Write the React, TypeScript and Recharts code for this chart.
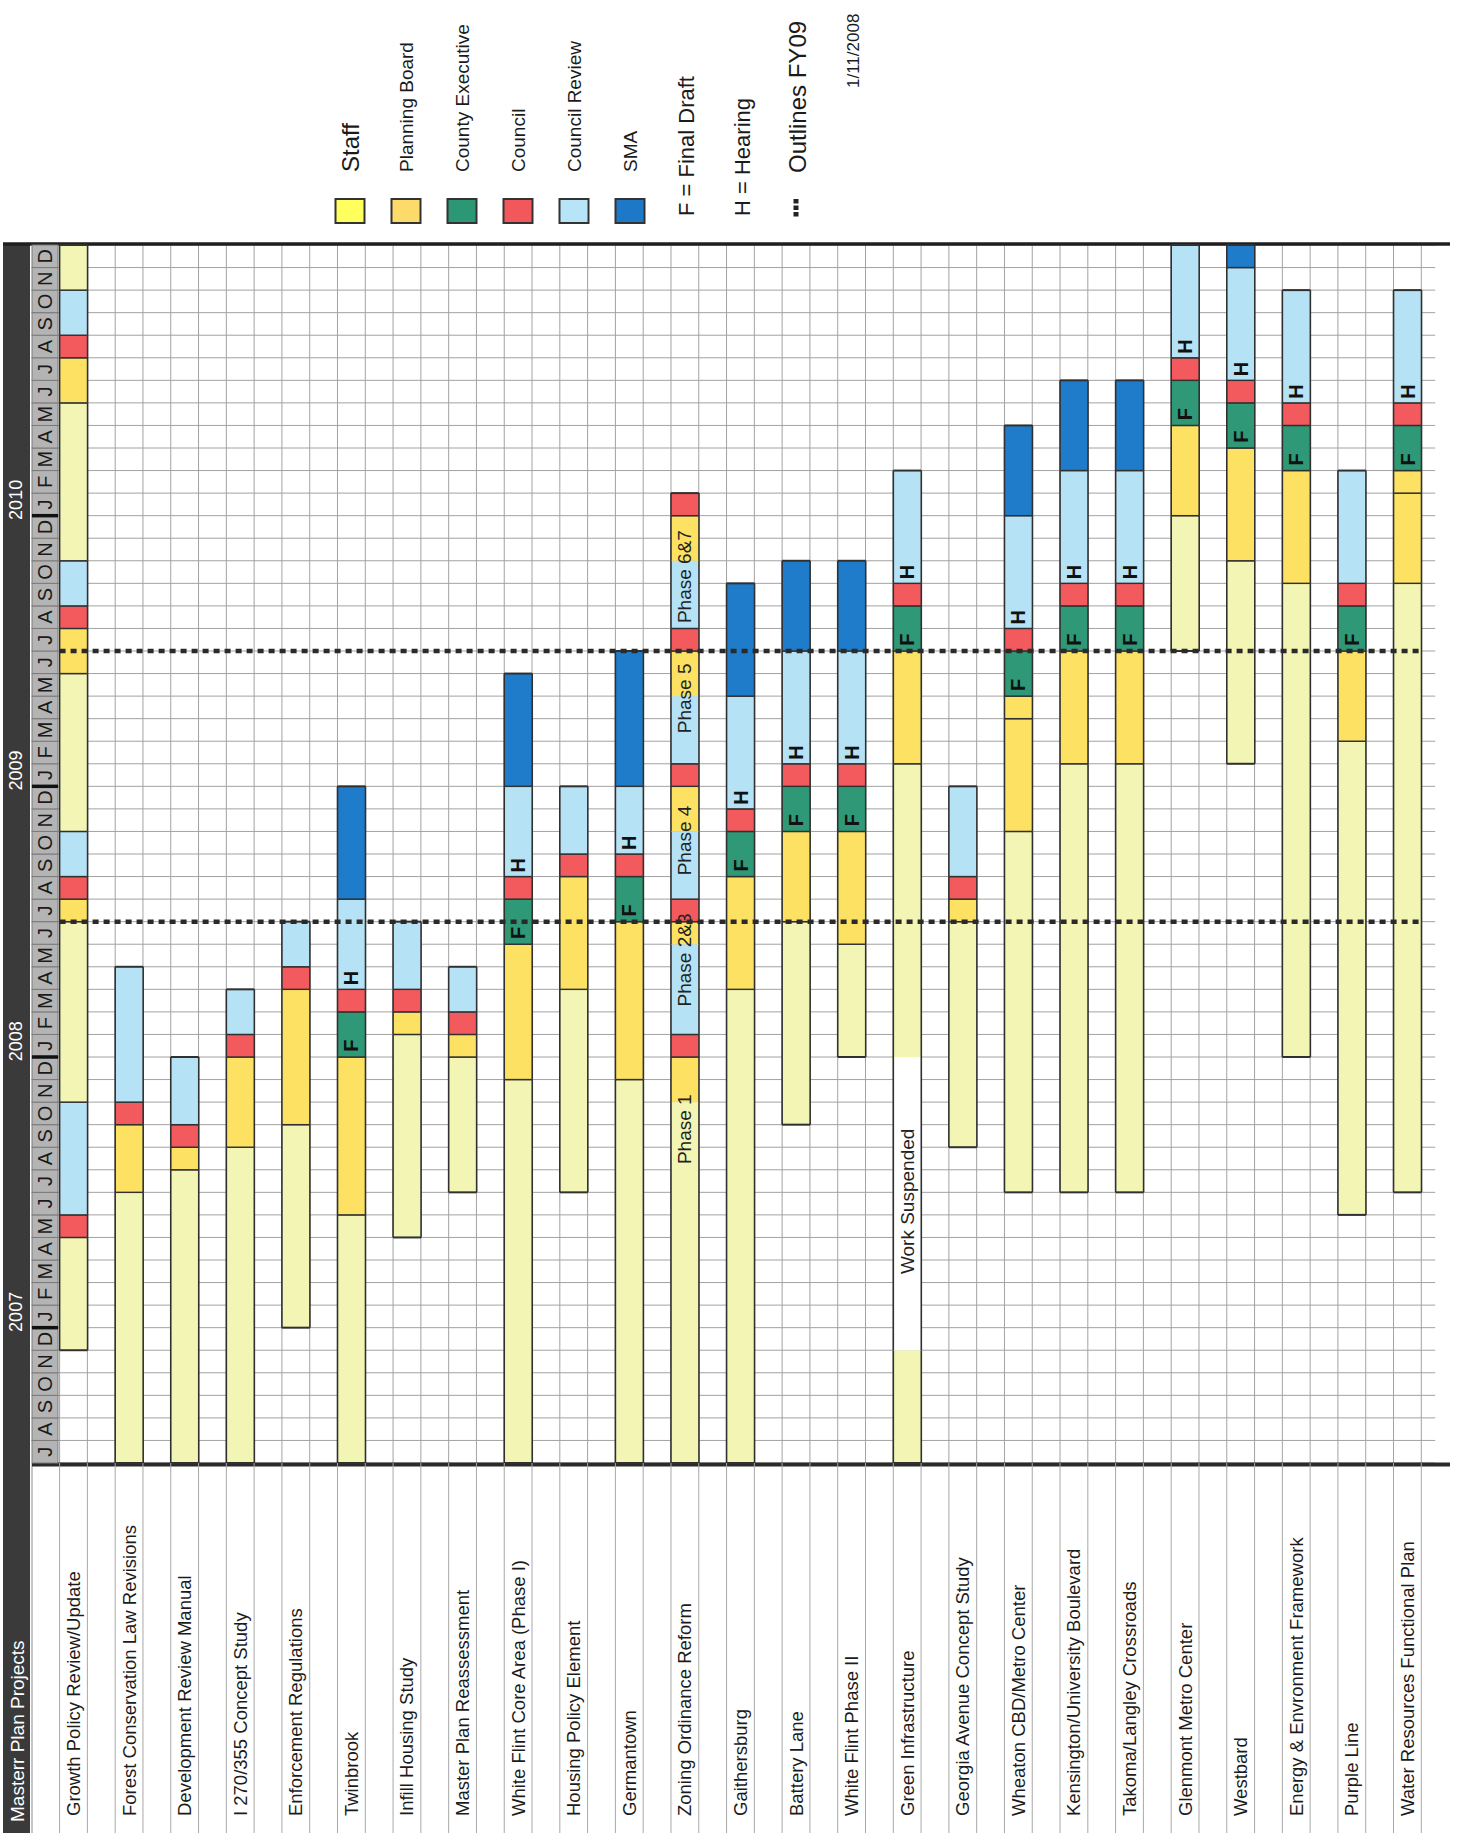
import React from 'react';
import { BarChart, Bar, XAxis, YAxis, CartesianGrid, ReferenceLine } from 'recharts';

type Phase = 'S' | 'P' | 'E' | 'C' | 'R' | 'M' | 'W';
type Seg = [Phase, number, number];

// Month index: 0 = July 2006 ... 53 = December 2010
const MONTH_COUNT = 54;
const FIRST_CAL_MONTH = 6; // July (0-based)
const MONTH_INITIALS = ['J', 'F', 'M', 'A', 'M', 'J', 'J', 'A', 'S', 'O', 'N', 'D'];
const YEARS = ['2007', '2008', '2009', '2010'];

const PROJECTS = [
  'Growth Policy Review/Update',
  'Forest Conservation Law Revisions',
  'Development Review Manual',
  'I 270/355 Concept Study',
  'Enforcement Regulations',
  'Twinbrook',
  'Infill Housing Study',
  'Master Plan Reassessment',
  'White Flint Core Area (Phase I)',
  'Housing Policy Element',
  'Germantown',
  'Zoning Ordinance Reform',
  'Gaithersburg',
  'Battery Lane',
  'White Flint Phase II',
  'Green Infrastructure',
  'Georgia Avenue Concept Study',
  'Wheaton CBD/Metro Center',
  'Kensington/University Boulevard',
  'Takoma/Langley Crossroads',
  'Glenmont Metro Center',
  'Westbard',
  'Energy & Envronment Framework',
  'Purple Line',
  'Water Resources Functional Plan',
];

// [phase, startMonth, endMonth]
const growthPolicy: Seg[] = [['S', 5, 10], ['C', 10, 11], ['R', 11, 16], ['S', 16, 24], ['P', 24, 25], ['C', 25, 26], ['R', 26, 28], ['S', 28, 35], ['P', 35, 37], ['C', 37, 38], ['R', 38, 40], ['S', 40, 47], ['P', 47, 49], ['C', 49, 50], ['R', 50, 52], ['S', 52, 54]];
const forestConservation: Seg[] = [['S', 0, 12], ['P', 12, 15], ['C', 15, 16], ['R', 16, 22]];
const developmentReview: Seg[] = [['S', 0, 13], ['P', 13, 14], ['C', 14, 15], ['R', 15, 18]];
const i270Study: Seg[] = [['S', 0, 14], ['P', 14, 18], ['C', 18, 19], ['R', 19, 21]];
const enforcement: Seg[] = [['S', 6, 15], ['P', 15, 21], ['C', 21, 22], ['R', 22, 24]];
const twinbrook: Seg[] = [['S', 0, 11], ['P', 11, 18], ['E', 18, 20], ['C', 20, 21], ['R', 21, 25], ['M', 25, 30]];
const infillHousing: Seg[] = [['S', 10, 19], ['P', 19, 20], ['C', 20, 21], ['R', 21, 24]];
const masterPlanReassess: Seg[] = [['S', 12, 18], ['P', 18, 19], ['C', 19, 20], ['R', 20, 22]];
const whiteFlintCore: Seg[] = [['S', 0, 17], ['P', 17, 23], ['E', 23, 25], ['C', 25, 26], ['R', 26, 30], ['M', 30, 35]];
const housingPolicy: Seg[] = [['S', 12, 21], ['P', 21, 26], ['C', 26, 27], ['R', 27, 30]];
const germantown: Seg[] = [['S', 0, 17], ['P', 17, 24], ['E', 24, 26], ['C', 26, 27], ['R', 27, 30], ['M', 30, 36]];
const zoningReform: Seg[] = [['S', 0, 16], ['P', 16, 18], ['C', 18, 19], ['R', 19, 23], ['P', 23, 24], ['C', 24, 25], ['R', 25, 28], ['P', 28, 30], ['C', 30, 31], ['R', 31, 34], ['P', 34, 36], ['C', 36, 37], ['R', 37, 40], ['P', 40, 42], ['C', 42, 43]];
const gaithersburg: Seg[] = [['S', 0, 21], ['P', 21, 26], ['E', 26, 28], ['C', 28, 29], ['R', 29, 34], ['M', 34, 39]];
const batteryLane: Seg[] = [['S', 15, 24], ['P', 24, 28], ['E', 28, 30], ['C', 30, 31], ['R', 31, 36], ['M', 36, 40]];
const whiteFlintII: Seg[] = [['S', 18, 23], ['P', 23, 28], ['E', 28, 30], ['C', 30, 31], ['R', 31, 36], ['M', 36, 40]];
const greenInfrastructure: Seg[] = [['S', 0, 5], ['W', 5, 18], ['S', 18, 31], ['P', 31, 36], ['E', 36, 38], ['C', 38, 39], ['R', 39, 44]];
const georgiaAvenue: Seg[] = [['S', 14, 24], ['P', 24, 25], ['C', 25, 26], ['R', 26, 30]];
const wheaton: Seg[] = [['S', 12, 28], ['P', 28, 33], ['P', 33, 34], ['E', 34, 36], ['C', 36, 37], ['R', 37, 42], ['M', 42, 46]];
const kensington: Seg[] = [['S', 12, 31], ['P', 31, 36], ['E', 36, 38], ['C', 38, 39], ['R', 39, 44], ['M', 44, 48]];
const takomaLangley: Seg[] = [['S', 12, 31], ['P', 31, 36], ['E', 36, 38], ['C', 38, 39], ['R', 39, 44], ['M', 44, 48]];
const glenmont: Seg[] = [['S', 36, 42], ['P', 42, 46], ['E', 46, 48], ['C', 48, 49], ['R', 49, 54]];
const westbard: Seg[] = [['S', 31, 40], ['P', 40, 45], ['E', 45, 47], ['C', 47, 48], ['R', 48, 53], ['M', 53, 54]];
const energyEnvironment: Seg[] = [['S', 18, 39], ['P', 39, 44], ['E', 44, 46], ['C', 46, 47], ['R', 47, 52]];
const purpleLine: Seg[] = [['S', 11, 32], ['P', 32, 36], ['E', 36, 38], ['C', 38, 39], ['R', 39, 44]];
const waterResources: Seg[] = [['S', 12, 39], ['P', 39, 43], ['P', 43, 44], ['E', 44, 46], ['C', 46, 47], ['R', 47, 52]];

const SCHEDULES: Seg[][] = [
  growthPolicy, forestConservation, developmentReview, i270Study, enforcement,
  twinbrook, infillHousing, masterPlanReassess, whiteFlintCore, housingPolicy,
  germantown, zoningReform, gaithersburg, batteryLane, whiteFlintII,
  greenInfrastructure, georgiaAvenue, wheaton, kensington, takomaLangley,
  glenmont, westbard, energyEnvironment, purpleLine, waterResources,
];

// Month of the "F" (Final Draft) and "H" (Hearing) marks, per project
const FINAL_DRAFT: (number | null)[] = [null, null, null, null, null, 18, null, null, 23, null, 24, null, 26, 28, 28, 36, null, 34, 36, 36, 46, 45, 44, 36, 44];
const HEARING: (number | null)[] = [null, null, null, null, null, 21, null, null, 26, null, 27, null, 29, 31, 31, 39, null, 37, 39, 39, 49, 48, 47, null, 47];

const NOTE_PROJECTS = ['Zoning Ordinance Reform', 'Zoning Ordinance Reform', 'Zoning Ordinance Reform', 'Zoning Ordinance Reform', 'Zoning Ordinance Reform', 'Green Infrastructure'];
const NOTE_TEXTS = ['Phase 1', 'Phase 2&3', 'Phase 4', 'Phase 5', 'Phase 6&7', 'Work Suspended'];
const NOTE_MONTHS = [14.8, 22.3, 27.6, 33.9, 39.3, 11.6];

const FY_OUTLINES = [24, 36];

const LEGEND_PHASES: Phase[] = ['S', 'P', 'E', 'C', 'R', 'M'];
const LEGEND_LABELS = ['Staff', 'Planning Board', 'County Executive', 'Council', 'Council Review', 'SMA'];
const LEGEND_NOTES = ['F = Final Draft', 'H = Hearing'];
const OUTLINE_LABEL = 'Outlines FY09';
const DATE_LABEL = '1/11/2008';
const HEADER = 'Masterr Plan Projects';

// ---------- styles & layout ----------
const FONT = "'Liberation Sans', Arial, Helvetica, sans-serif";
const BAR_COLORS: Record<Phase, string> = {
  S: '#f2f5b4', P: '#fde163', E: '#2e9877', C: '#f35a5d', R: '#b6e2f5', M: '#1f7cca', W: '#ffffff',
};
const LEGEND_COLORS: Record<Phase, string> = {
  S: '#ffff5e', P: '#fcdb6a', E: '#2b9775', C: '#f2575b', R: '#b8e4f7', M: '#1d78c8', W: '#ffffff',
};
const LEGEND_FONT_SIZES = [24, 19, 19, 19, 19, 19];

const CHART_W = 1458;
const CHART_H = 1833;
const PLOT_TOP = 245;
const PLOT_BOTTOM = 1463;
const PLOT_LEFT = 45.7;
const PLOT_RIGHT = 1435.2;
const PLOT_W = PLOT_RIGHT - PLOT_LEFT;
const PLOT_H = PLOT_BOTTOM - PLOT_TOP;
const BAND = PLOT_W / PROJECTS.length;
const MONTH_H = PLOT_H / MONTH_COUNT;
const LEFT_COL_X = 32;
const RIGHT_COL_X = 1422;
const COL_W = 26;
const LABEL_START_Y = 1816;
const STROKE = '#303030';
const Y_AXIS_W = 1;

const MONTH_CENTERS = Array.from({ length: MONTH_COUNT }, (_, i) => i + 0.5);
const MONTH_BOUNDARIES = Array.from({ length: MONTH_COUNT + 1 }, (_, i) => i);
const HALF_COLUMNS = Array.from({ length: PROJECTS.length * 2 }, (_, k) => k);

const MAX_SEGS = Math.max(...SCHEDULES.map((s) => s.length));
const SEG_KEYS = Array.from({ length: MAX_SEGS }, (_, j) => `seg${j}`);

const rows = PROJECTS.map((name, i) => {
  const segs = SCHEDULES[i];
  const row: any = {
    name,
    segs,
    base: segs[0][1],
    fd: FINAL_DRAFT[i],
    hr: HEARING[i],
    notes: NOTE_PROJECTS.map((p, k) => (p === name ? k : -1)).filter((k) => k >= 0),
  };
  SEG_KEYS.forEach((key, j) => {
    row[key] = segs[j] ? segs[j][2] - segs[j][1] : 0;
  });
  return row;
});

const isSoft = (name: string, a: Seg, b: Seg) => {
  if (a[0] === 'W' || b[0] === 'W') return true;
  if (name === 'Zoning Ordinance Reform') {
    const pair = [a[0], b[0]].sort().join('');
    return pair === 'PR' || pair === 'PS';
  }
  return false;
};

const rotText = (x: number, y: number, text: string, opts: any = {}) => (
  <text
    x={x}
    y={y}
    transform={`rotate(-90 ${x} ${y})`}
    fontFamily={FONT}
    dominantBaseline="central"
    {...opts}
  >
    {text}
  </text>
);

const makeSegmentShape = (j: number) => (props: any) => {
  const { x, y, width, height, payload } = props;
  const segs: Seg[] = payload?.segs ?? [];
  if (j >= segs.length || !(height > 0)) return <g />;
  const seg = segs[j];
  const [ph, s, e] = seg;
  const ppm = height / (e - s);
  const yAt = (m: number) => y + (e - m) * ppm;
  const prev = segs[j - 1];
  const next = segs[j + 1];
  const name = payload.name;
  const cx = x + width / 2;
  const parts: any[] = [];
  parts.push(<rect key="r" x={x} y={y} width={width} height={height} fill={BAR_COLORS[ph]} />);
  parts.push(<line key="l" x1={x} x2={x} y1={y} y2={y + height} stroke={STROKE} strokeWidth={1.6} />);
  parts.push(<line key="rr" x1={x + width} x2={x + width} y1={y} y2={y + height} stroke={STROKE} strokeWidth={1.6} />);
  if (!(next && isSoft(name, seg, next))) {
    parts.push(<line key="t" x1={x} x2={x + width} y1={y} y2={y} stroke={STROKE} strokeWidth={next ? 1.4 : 2} />);
  }
  if (!(prev && isSoft(name, prev, seg))) {
    parts.push(<line key="b" x1={x} x2={x + width} y1={y + height} y2={y + height} stroke={STROKE} strokeWidth={prev ? 1.4 : 2} />);
  }
  if (j === segs.length - 1) {
    if (payload.fd != null) {
      const yy = yAt(payload.fd + 0.5);
      parts.push(<g key="f">{rotText(cx, yy, 'F', { textAnchor: 'middle', fontSize: 20, fontWeight: 'bold', fill: '#111' })}</g>);
    }
    if (payload.hr != null) {
      const yy = yAt(payload.hr + 0.5);
      parts.push(<g key="h">{rotText(cx, yy, 'H', { textAnchor: 'middle', fontSize: 20, fontWeight: 'bold', fill: '#111' })}</g>);
    }
    (payload.notes as number[]).forEach((k) => {
      const yy = yAt(NOTE_MONTHS[k]);
      parts.push(<g key={`n${k}`}>{rotText(cx, yy, NOTE_TEXTS[k], { textAnchor: 'middle', fontSize: 19, fill: '#222' })}</g>);
    });
  }
  return <g>{parts}</g>;
};

const MonthTick = (props: any) => {
  const { y, payload, side } = props;
  if (y == null || payload == null) return <g />;
  const m = Math.floor(payload.value);
  const cal = (m + FIRST_CAL_MONTH) % 12;
  const x0 = side === 'left' ? LEFT_COL_X : RIGHT_COL_X;
  const cx = x0 + COL_W / 2;
  const yearIdx = Math.floor((m + FIRST_CAL_MONTH) / 12) - 1;
  return (
    <g>
      <rect x={x0} y={y - MONTH_H / 2} width={COL_W} height={MONTH_H} fill="#b4b4b4" stroke="#7a7a7a" strokeWidth={1} />
      {rotText(cx, y, MONTH_INITIALS[cal], { textAnchor: 'middle', fontSize: 20, fill: '#1a1a1a' })}
      {cal === 0 && (
        <line x1={x0} x2={x0 + COL_W} y1={y + MONTH_H / 2} y2={y + MONTH_H / 2} stroke="#111" strokeWidth={3.5} />
      )}
      {cal === 0 && side === 'left' && yearIdx >= 0 && yearIdx < YEARS.length &&
        rotText(16.5, y - 0.2 * MONTH_H, YEARS[yearIdx], { textAnchor: 'middle', fontSize: 18, fill: '#ffffff' })}
    </g>
  );
};

const ProjectTick = (props: any) => {
  const { x, payload } = props;
  if (x == null || payload == null) return <g />;
  const lx = x - BAND / 4;
  const rx = x + BAND / 4;
  return (
    <g>
      <line x1={lx} x2={lx} y1={PLOT_BOTTOM} y2={CHART_H} stroke="#a8a8a8" strokeWidth={1} />
      <line x1={rx} x2={rx} y1={PLOT_BOTTOM} y2={CHART_H} stroke="#a8a8a8" strokeWidth={1} />
      {rotText(x, LABEL_START_Y, payload.value, { textAnchor: 'start', fontSize: 18.5, fill: '#1b1b1b' })}
    </g>
  );
};

const FyLine = (props: any) => {
  const { x1, x2, y1 } = props;
  if (x1 == null || y1 == null) return <g />;
  return (
    <line x1={x1 + BAND / 4} x2={x2 - BAND / 4} y1={y1} y2={y1} stroke="#2a2a2a" strokeWidth={4.5} strokeDasharray="6 5" />
  );
};

const BackDecor = () => (
  <g>
    <rect x={3} y={PLOT_TOP - 2} width={27} height={CHART_H - PLOT_TOP + 2} fill="#3a3a3a" />
    <line x1={32} x2={32} y1={PLOT_BOTTOM} y2={CHART_H} stroke="#8a8a8a" strokeWidth={1} />
  </g>
);

const FrontDecor = () => (
  <g>
    <line x1={3} x2={1450} y1={PLOT_TOP - 1} y2={PLOT_TOP - 1} stroke="#1f1f1f" strokeWidth={3.5} />
    <line x1={32} x2={1450} y1={PLOT_BOTTOM + 1.5} y2={PLOT_BOTTOM + 1.5} stroke="#2a2a2a" strokeWidth={4} />
    {rotText(17, 1822, HEADER, { textAnchor: 'start', fontSize: 19, fill: '#ffffff' })}
    {LEGEND_PHASES.map((ph, i) => {
      const cx = 350 + i * 56;
      return (
        <g key={ph}>
          <rect x={cx - 14.5} y={199} width={29} height={24} fill={LEGEND_COLORS[ph]} stroke="#333" strokeWidth={2} />
          {rotText(cx, 172, LEGEND_LABELS[i], { textAnchor: 'start', fontSize: LEGEND_FONT_SIZES[i], fill: '#1b1b1b' })}
        </g>
      );
    })}
    {LEGEND_NOTES.map((t, i) => (
      <g key={t}>{rotText(686 + i * 56, 216, t, { textAnchor: 'start', fontSize: 22, fill: '#1b1b1b' })}</g>
    ))}
    {[0, 1, 2].map((k) => (
      <rect key={k} x={793.5} y={199 + k * 6.5} width={5} height={4.5} fill="#222" />
    ))}
    {rotText(797, 173, OUTLINE_LABEL, { textAnchor: 'start', fontSize: 24, fill: '#1b1b1b' })}
    {rotText(853, 88, DATE_LABEL, { textAnchor: 'start', fontSize: 17, fill: '#1b1b1b' })}
  </g>
);

const hGen = (p: any) => {
  const ya = p?.yAxis;
  if (ya && typeof ya.scale === 'function') {
    const vals = MONTH_BOUNDARIES.map((b) => ya.scale(b));
    if (vals.every((v) => Number.isFinite(v))) return vals;
  }
  const o = p?.offset ?? { top: PLOT_TOP, height: PLOT_H };
  return MONTH_BOUNDARIES.map((b) => o.top + o.height * (1 - b / MONTH_COUNT));
};

const vGen = (p: any) => {
  const o = p?.offset ?? { left: PLOT_LEFT, width: PLOT_W };
  const band = o.width / PROJECTS.length;
  return HALF_COLUMNS.map((k) => o.left + band * (0.25 + k * 0.5));
};

export default function App() {
  return (
    <div style={{ position: 'absolute', left: 0, top: 0, width: CHART_W, height: CHART_H, background: '#ffffff' }}>
      <BarChart
        width={CHART_W}
        height={CHART_H}
        data={rows}
        margin={{ top: PLOT_TOP, right: CHART_W - PLOT_RIGHT - Y_AXIS_W, bottom: 0, left: PLOT_LEFT - Y_AXIS_W }}
        barCategoryGap="25%"
      >
        <BackDecor />
        <CartesianGrid
          yAxisId="left"
          stroke="#a2a2a2"
          strokeWidth={1}
          horizontalCoordinatesGenerator={hGen}
          verticalCoordinatesGenerator={vGen}
        />
        <XAxis
          dataKey="name"
          type="category"
          interval={0}
          height={CHART_H - PLOT_BOTTOM}
          axisLine={false}
          tickLine={false}
          tick={(p: any) => <ProjectTick {...p} />}
        />
        <YAxis
          yAxisId="left"
          type="number"
          domain={[0, MONTH_COUNT]}
          ticks={MONTH_CENTERS}
          interval={0}
          width={Y_AXIS_W}
          axisLine={false}
          tickLine={false}
          tick={(p: any) => <MonthTick {...p} side="left" />}
        />
        <YAxis
          yAxisId="right"
          orientation="right"
          type="number"
          domain={[0, MONTH_COUNT]}
          ticks={MONTH_CENTERS}
          interval={0}
          width={Y_AXIS_W}
          axisLine={false}
          tickLine={false}
          tick={(p: any) => <MonthTick {...p} side="right" />}
        />
        <Bar dataKey="base" stackId="t" yAxisId="left" fill="transparent" isAnimationActive={false} shape={() => <g />} />
        {SEG_KEYS.map((k, j) => (
          <Bar key={k} dataKey={k} stackId="t" yAxisId="left" isAnimationActive={false} shape={makeSegmentShape(j)} />
        ))}
        {FY_OUTLINES.map((v) => (
          <ReferenceLine key={v} yAxisId="left" y={v} shape={FyLine} />
        ))}
        <FrontDecor />
      </BarChart>
    </div>
  );
}
